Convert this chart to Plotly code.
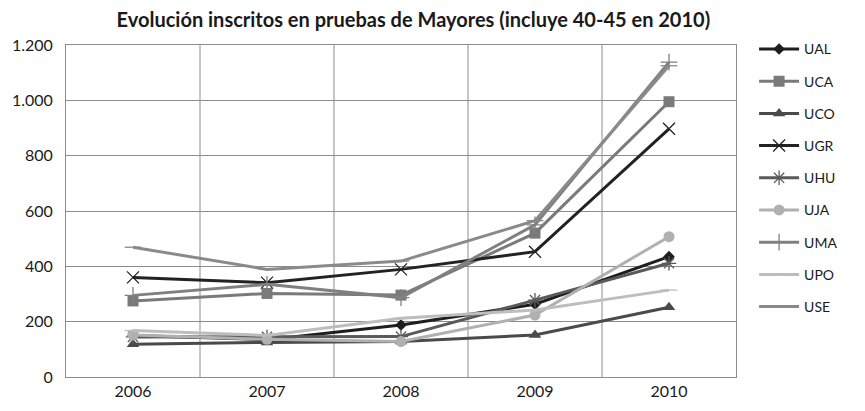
import plotly.graph_objects as go

years = ["2006", "2007", "2008", "2009", "2010"]
series_names = ["UAL", "UCA", "UCO", "UGR", "UHU", "UJA", "UMA", "UPO", "USE"]
UAL = [150, 135, 188, 263, 435]
UCA = [275, 302, 296, 520, 995]
UCO = [118, 125, 128, 152, 252]
UGR = [360, 341, 389, 453, 897]
UHU = [145, 145, 146, 278, 411]
UJA = [152, 136, 128, 224, 507]
UMA = [295, 335, 287, 550, 1138]
UPO = [168, 150, 212, 242, 314]
USE = [469, 389, 419, 565, 1125]
y_ticks = [0, 200, 400, 600, 800, 1000, 1200]
y_tick_labels = ["0", "200", "400", "600", "800", "1.000", "1.200"]

values = [UAL, UCA, UCO, UGR, UHU, UJA, UMA, UPO, USE]
colors = ["#1e1e1e", "#7a7a7a", "#4a4a4a", "#222222", "#5a5a5a",
          "#b0b0b0", "#808080", "#bdbdbd", "#8a8a8a"]
markers = ["diamond", "square", "triangle-up", "x-thin", "asterisk",
           "circle", "cross-thin", "line-ew", "line-ew"]
msizes = [9, 11, 11, 12, 12, 11, 12, 12, 12]

fig = go.Figure()
for name, vals, c, m, s in zip(series_names, values, colors, markers, msizes):
    open_m = m in ("x-thin", "asterisk", "cross-thin", "line-ew")
    fig.add_trace(go.Scatter(
        x=years, y=vals, name=name, mode="lines+markers",
        legendgroup=name,
        line=dict(color=c, width=3),
        marker=dict(symbol=m, size=s, color=c,
                    line=dict(color=c, width=1.3 if open_m else 0)),
    ))

font = "Lato"
fig.update_layout(
    width=857, height=403,
    margin=dict(l=58, r=129, t=37, b=34, autoexpand=False),
    paper_bgcolor="white", plot_bgcolor="white",
    font=dict(family=font, color="#1a1a1a"),
    title=dict(text="<b>Evolución inscritos en pruebas de Mayores (incluye 40-45 en 2010)</b>",
               x=0.473, xanchor="center", y=0.97, yanchor="middle",
               font=dict(size=20, family=font, color="#1a1a1a")),
    legend=dict(x=1.027, xanchor="left", y=1.035, yanchor="top",
                font=dict(size=14, family=font), tracegroupgap=11,
                itemwidth=40, bgcolor="rgba(0,0,0,0)", maxheight=400),
    showlegend=True,
)
fig.update_xaxes(type="category", showgrid=False,
                 showline=True, linecolor="#8c8c8c", mirror=True, automargin=False,
                 tickfont=dict(size=16, family=font), ticks="", range=[-0.5, 4.5])
# vertical grid lines between categories
for i in range(1, 5):
    fig.add_shape(type="line", xref="x", yref="paper", x0=i - 0.5, x1=i - 0.5,
                  y0=0, y1=1, line=dict(color="#8c8c8c", width=1), layer="below")
fig.update_yaxes(range=[0, 1200], tickvals=y_ticks, ticktext=y_tick_labels,
                 showgrid=True, gridcolor="#8c8c8c", gridwidth=1, automargin=False,
                 showline=True, linecolor="#8c8c8c", mirror=True, zeroline=False,
                 tickfont=dict(size=16, family=font), ticks="", ticklabelstandoff=9)

fig.write_html("out.html")
